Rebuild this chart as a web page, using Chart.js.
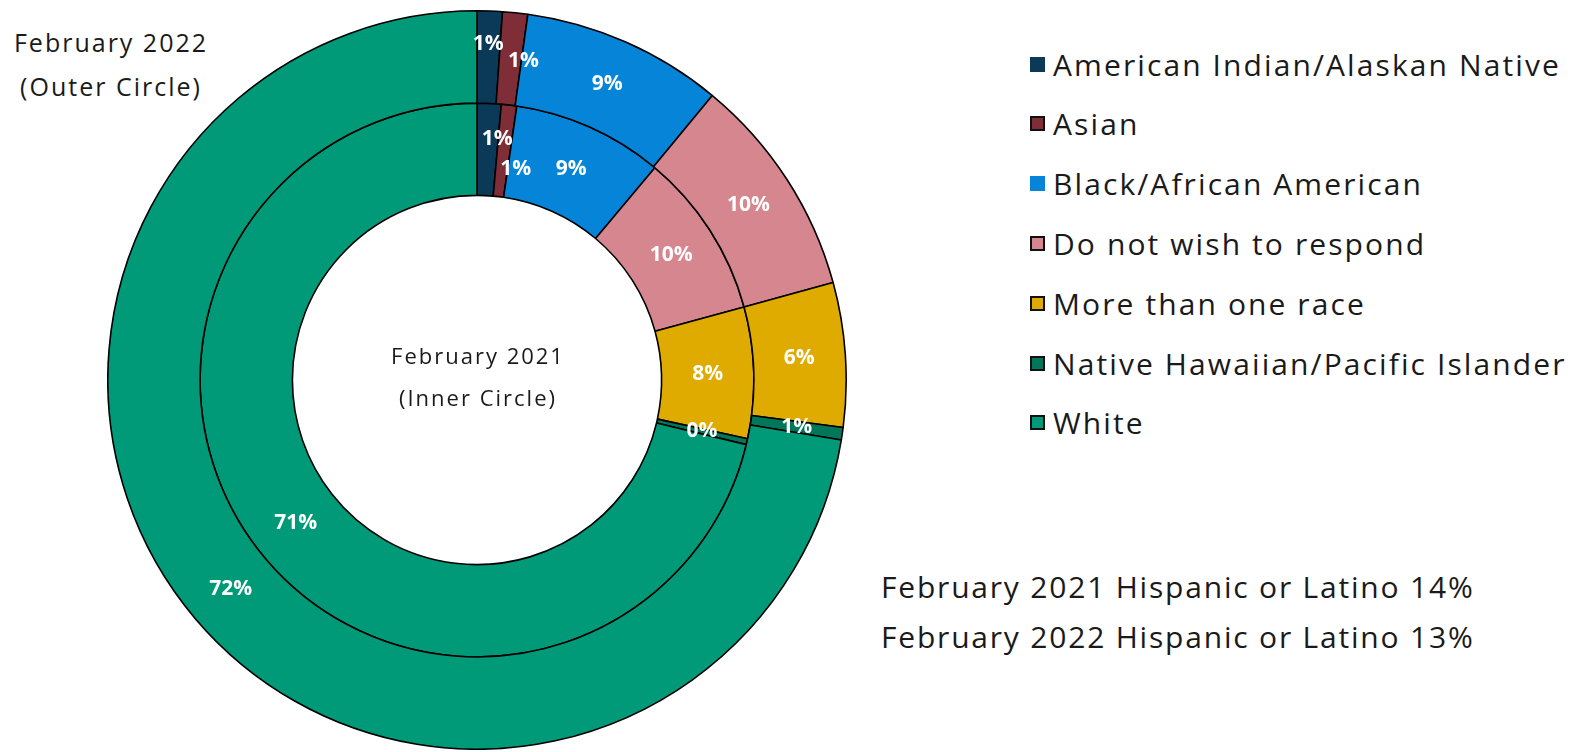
<!DOCTYPE html>
<html>
<head>
<meta charset="utf-8">
<title>Race breakdown February 2021 vs February 2022</title>
<script src="https://cdn.jsdelivr.net/npm/chart.js@4.4.0/dist/chart.umd.min.js"></script>
<style>
    body { margin: 0; background: #fff; width: 1573px; height: 752px; overflow: hidden; position: relative; font-family: "Open Sans", sans-serif; color: #1a1a1a; }
    #chartBox { position: absolute; left: 107px; top: 10px; width: 740px; height: 740px; }
    .txt { position: absolute; white-space: nowrap; line-height: 40px; }
    .ring-note { left: 0; width: 222px; text-align: center; font-size: 25px; letter-spacing: 2px; }
    .center-note { left: 327px; width: 302px; text-align: center; font-size: 22px; letter-spacing: 2px; }
    .legend-row { position: absolute; left: 1030px; height: 40px; display: flex; align-items: center; font-size: 30px; letter-spacing: 2.1px; white-space: nowrap; }
    .legend-row .sw { width: 11px; height: 11px; border: 2px solid #111; margin-right: 8px; flex: none; }
    .hisp { left: 881px; font-size: 30px; letter-spacing: 1.8px; }
</style>
</head>
<body>

<div class="txt ring-note" style="top:22px">February 2022</div>
<div class="txt ring-note" style="top:66px">(Outer Circle)</div>

<div id="chartBox"><canvas id="raceChart"></canvas></div>

<div class="txt center-note" style="top:335px">February 2021</div>
<div class="txt center-note" style="top:377px">(Inner Circle)</div>

<div id="legend"></div>

<div class="txt hisp" style="top:567px">February 2021 Hispanic or Latino 14%</div>
<div class="txt hisp" style="top:617px">February 2022 Hispanic or Latino 13%</div>

<script>
// categories, in the order they go round the rings (clockwise from 12 o'clock)
const raceLabels = [
    'American Indian/Alaskan Native',
    'Asian',
    'Black/African American',
    'Do not wish to respond',
    'More than one race',
    'Native Hawaiian/Pacific Islander',
    'White'
];

// percent shares
const feb2022 = [1.1, 1.1, 8.8, 9.75, 6.3, 0.55, 72.4];   // outer circle
const feb2021 = [1.4, 0.9, 8.8, 9.65, 7.65, 0.35, 71.25]; // inner circle

const raceColors = ['#0b3a59', '#7f2d37', '#0684d8', '#d5868e', '#dfab00', '#00775a', '#019a79'];

// the small slices at the top have their labels pushed aside so they don't overlap
const labelNudge = [
    { 0: [0, -13], 1: [13, 2] },
    { 0: [10, -10], 1: [12, 18] }
];

// --- percent labels drawn on each slice ---
const sliceLabels = {
    id: 'sliceLabels',
    afterDatasetsDraw(chart) {
        const ctx = chart.ctx;
        ctx.save();
        ctx.font = 'bold 21px "Open Sans"';
        ctx.fillStyle = '#fff';
        ctx.textAlign = 'center';
        ctx.textBaseline = 'middle';
        chart.data.datasets.forEach((ds, di) => {
            const meta = chart.getDatasetMeta(di);
            meta.data.forEach((arc, i) => {
                const p = arc.getCenterPoint();
                const n = (labelNudge[di] || {})[i] || [0, 0];
                ctx.fillText(Math.round(ds.data[i]) + '%', p.x + n[0], p.y + n[1]);
            });
        });
        ctx.restore();
    }
};

function buildLegend() {
    const box = document.getElementById('legend');
    raceLabels.forEach((label, i) => {
        const row = document.createElement('div');
        row.className = 'legend-row';
        row.style.top = (44 + i * 59.8) + 'px';
        const sw = document.createElement('span');
        sw.className = 'sw';
        sw.style.background = raceColors[i];
        if (i === 0 || i === 2) sw.style.borderColor = raceColors[i];
        row.appendChild(sw);
        row.appendChild(document.createTextNode(label));
        box.appendChild(row);
    });
}

document.addEventListener('DOMContentLoaded', function() {
    buildLegend();

    new Chart(document.getElementById('raceChart'), {
        type: 'doughnut',
        data: {
            labels: raceLabels,
            datasets: [
                { label: 'February 2022', data: feb2022, backgroundColor: raceColors, borderColor: '#000', borderWidth: 1.6 },
                { label: 'February 2021', data: feb2021, backgroundColor: raceColors, borderColor: '#000', borderWidth: 1.6 }
            ]
        },
        options: {
            responsive: true,
            maintainAspectRatio: false,
            animation: false,
            cutout: '50%',
            hoverOffset: 0,
            layout: { padding: 0 },
            plugins: {
                legend: { display: false },
                tooltip: { enabled: false }
            }
        },
        plugins: [sliceLabels]
    });
});
</script>
</body>
</html>
